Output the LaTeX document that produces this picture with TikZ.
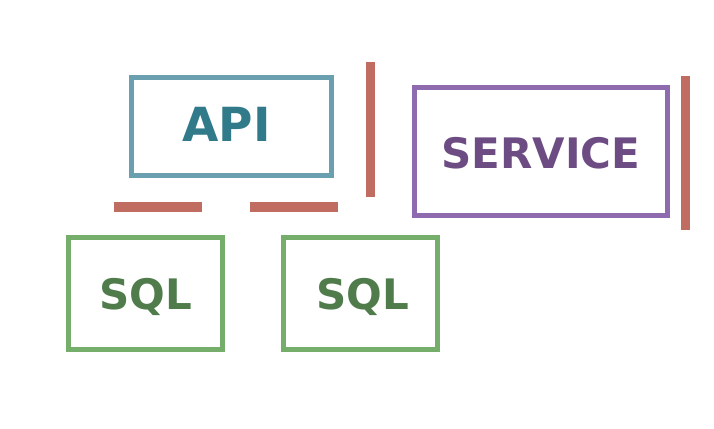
\documentclass[tikz,border=0pt]{standalone}
\usepackage{fontspec}
\setmainfont{DejaVu Sans}
\definecolor{apiB}{HTML}{6A9FB0}
\definecolor{apiT}{HTML}{307A8A}
\definecolor{svcB}{HTML}{8E6AAE}
\definecolor{svcT}{HTML}{6C4C82}
\definecolor{sqlB}{HTML}{74AE6A}
\definecolor{sqlT}{HTML}{507C4C}
\definecolor{barC}{HTML}{C06C60}
\tikzset{
  boxnode/.style={draw=#1, line width=5pt, rectangle, inner sep=0pt},
  labelnode/.style={inner sep=0pt, anchor=base, text=#1},
  barrect/.style={fill=barC, draw=none}
}
\begin{document}
\begin{tikzpicture}[x=1pt,y=-1pt]
\useasboundingbox (0,0) rectangle (714,428);
\node[boxnode=apiB, minimum width=199.5pt, minimum height=97.5pt] (api) at (231.25,126.25) {};
\node[boxnode=svcB, minimum width=253pt, minimum height=127.5pt] (svc) at (541,151.25) {};
\node[boxnode=sqlB, minimum width=154pt, minimum height=111.5pt] (sql1) at (145.5,293.25) {};
\node[boxnode=sqlB, minimum width=154pt, minimum height=111.5pt] (sql2) at (360.5,293.25) {};
\node[labelnode=apiT, font=\bfseries\fontsize{47}{50}\selectfont] (apit) at (226.5,141.7) {API};
\node[labelnode=svcT, font=\bfseries\fontsize{42}{46}\selectfont] (svct) at (541,168) {SERVICE};
\node[labelnode=sqlT, font=\bfseries\fontsize{42}{46}\selectfont] (sql1t) at (146,309) {SQL};
\node[labelnode=sqlT, font=\bfseries\fontsize{42}{46}\selectfont] (sql2t) at (363,309) {SQL};
\fill[barrect] (366,62) rectangle (375,197);
\fill[barrect] (681,76) rectangle (690,230);
\fill[barrect] (114,202) rectangle (202,212);
\fill[barrect] (250,202) rectangle (338,212);
\end{tikzpicture}
\end{document}
